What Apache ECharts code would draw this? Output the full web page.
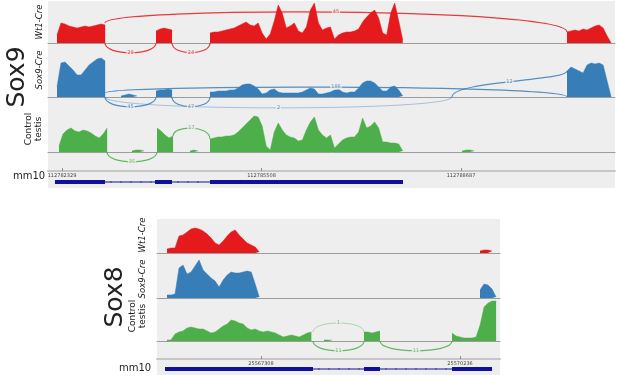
<!DOCTYPE html>
<html>
<head>
<meta charset="utf-8">
<script src="https://cdn.jsdelivr.net/npm/echarts@6/dist/echarts.min.js"></script>
<style>
html, body { margin: 0; padding: 0; background: #fff; }
#chart { width: 617px; height: 376px; }
</style>
</head>
<body>
<div id="chart"></div>
<script>
/* sashimi plots, Sox9 and Sox8 loci (mm10) */

/* ---- Sox9 locus ---- */
var SOX9_STEP = 64; // bp per coverage bin
var SOX9_RANGE = [112782106, 112791141];
var SOX9_TICKS = [112782329, 112785508, 112788687];
var SOX9_EXONS = [[112782217, 112783014], [112783811, 112784082], [112784687, 112787763]];

// coverage segments: [first bin start (bp), depth per bin]
var SOX9_WT1_COV = [
	[112782249, [8,20,19,17,16,15,16,17,16,17,18,19,18]],
	[112783827, [12,14,15,14,13]],
	[112784687, [10,11,11,12,13,14,15,17,19,21,18,17,20,10,4,9,22,38,30,15,17,20,12,10,16,33,40,20,13,15,16,4,8,10,11,11,12,14,21,26,30,33,25,10,8,30,40,22,3]],
	[112790376, [11,12,13,12,14,13,15,17,18,15,7,0]]
];
var SOX9_SOX9_COV = [
	[112782249, [10,34,35,31,27,22,22,27,32,35,38,39,36]],
	[112783269, [1,2,3,2,1]],
	[112783827, [6,7,7,8,7]],
	[112784687, [5,5,6,6,6,7,7,9,12,13,13,11,8,3,4,7,8,5,4,4,4,4,4,5,7,9,8,3,3,4,5,7,8,5,4,5,5,9,14,16,16,14,10,6,6,10,11,7,1]],
	[112790376, [26,30,28,26,24,32,34,33,34,32,16,0]]
];
var SOX9_CTRL_COV = [
	[112782281, [6,18,22,24,21,20,22,21,19,16,14,18,24]],
	[112783444, [1,2,2,1]],
	[112783843, [24,21,17,14,16]],
	[112784369, [1,2,1]],
	[112784687, [13,14,15,15,16,16,17,20,24,28,32,36,35,26,6,2,20,29,22,17,15,14,11,12,22,30,35,22,17,14,17,4,8,12,14,15,15,20,34,24,26,30,24,10,10,9,9,8,1]],
	[112788703, [1,2,2,1]]
];

// junctions: [donor, acceptor, reads]
var SOX9_WT1_JUNC = [[112783014, 112790376, 45], [112783014, 112783827, 29], [112784082, 112784687, 24]];
var SOX9_SOX9_JUNC = [[112783014, 112790376, 186], [112788544, 112790376, 12], [112783014, 112783827, 45], [112784082, 112784687, 47], [112783014, 112788544, 2]];
var SOX9_CTRL_JUNC = [[112783046, 112783843, 35], [112784098, 112784687, 17]];

/* ---- Sox8 locus ---- */
var SOX8_STEP = 59;
var SOX8_RANGE = [25565778, 25570824];
var SOX8_TICKS = [25567308, 25570236];
var SOX8_EXONS = [[25565896, 25568073], [25568823, 25569059], [25570118, 25570707]];

var SOX8_WT1_COV = [
	[25565925, [4,5,5,17,18,21,24,25,24,22,19,15,10,8,12,17,21,23,18,14,10,8,6,1]],
	[25570530, [2,3,3,2]]
];
var SOX8_SOX9_COV = [
	[25565925, [3,3,4,30,33,24,26,32,38,28,24,20,17,11,18,23,26,25,25,26,27,26,14,1]],
	[25570530, [8,14,13,9,1]]
];
var SOX8_CTRL_COV = [
	[25565925, [1,1,7,9,10,13,14,13,12,12,10,8,9,12,15,17,21,20,18,17,13,11,12,10,9,10,9,8,6,4,5,6,5,4,6,8,9]],
	[25568235, [1,1,1]],
	[25568823, [9,9,8,9,10]],
	[25570118, [8,5,4,3,3,3,4,16,34,38,40,40]]
];
var SOX8_CTRL_JUNC = [[25568073, 25568823, 1], [25568073, 25568823, 11], [25569059, 25570118, 11]];

/* ---- styles ---- */
var RED = '#e41a1c', BLUE = '#377eb8', GREEN = '#4daf4a', GENE = '#10109a';
var BG = '#eeeeee';
// arc shape per junction: [start lift, end lift, control height]
var ARC_SOX9_WT1 = [[20, 11, 36], [0, 0, -13], [0, 0, -13]];
var ARC_SOX9_SOX9 = [[4, 0, 12.5], [0, 26, 16], [0, 0, -13], [0, 0, -13], [0, 0, -14.5]];
var ARC_SOX9_CTRL = [[0, 0, -13], [16, 13, 27]];
var ARC_SOX8_CTRL = [[9, 9, 21], [0, 0, -13], [0, 0, -13]];

function covData(segs, step) {
	var out = [];
	segs.forEach(function (seg) {
		seg[1].forEach(function (v, i) { out.push([seg[0] + i * step, v]); });
		out.push([seg[0] + seg[1].length * step, null]);
	});
	return out;
}

function covSeries(segs, step, color, idx) {
	return {
		type: 'line', xAxisIndex: idx, yAxisIndex: idx,
		data: covData(segs, step),
		symbol: 'none', connectNulls: false, silent: true,
		lineStyle: { color: color, width: 0.5 },
		areaStyle: { color: color, opacity: 1 }
	};
}

function arcSeries(junc, shape, color, idx) {
	return {
		type: 'custom', xAxisIndex: idx, yAxisIndex: idx, silent: true, clip: false, z: 5,
		data: junc.map(function (j, k) { return [j[0], j[1], j[2], k]; }),
		encode: { x: [0, 1] },
		renderItem: function (params, api) {
			var s = api.value(0), e = api.value(1), n = api.value(2);
			var L = shape[api.value(3)];
			var p0 = api.coord([s, L[0]]), p3 = api.coord([e, L[1]]);
			var c1 = api.coord([s, L[2]]), c2 = api.coord([e, L[2]]);
			var mx = (p0[0] + 3 * c1[0] + 3 * c2[0] + p3[0]) / 8;
			var my = (p0[1] + 3 * c1[1] + 3 * c2[1] + p3[1]) / 8;
			var faint = n < 5;
			return {
				type: 'group',
				children: [{
					type: 'bezierCurve',
					shape: { x1: p0[0], y1: p0[1], cpx1: c1[0], cpy1: c1[1], cpx2: c2[0], cpy2: c2[1], x2: p3[0], y2: p3[1] },
					style: { stroke: color, lineWidth: faint ? 1 : 1.2, fill: null, opacity: faint ? 0.4 : 0.85 }
				}, {
					type: 'text', x: mx, y: my, z2: 10,
					style: {
						text: String(n), fontSize: 5, fontFamily: 'DejaVu Sans', fill: color,
						opacity: 0.8, align: 'center', verticalAlign: 'middle',
						backgroundColor: BG, padding: [0, 1]
					}
				}]
			};
		}
	};
}

function geneSeries(exons, idx) {
	return {
		type: 'custom', xAxisIndex: idx, yAxisIndex: idx, silent: true, clip: false,
		data: exons.map(function (ex, k) { return [ex[0], ex[1], k]; }),
		encode: { x: [0, 1] },
		renderItem: function (params, api) {
			var k = api.value(2);
			var a = api.coord([api.value(0), 0.5]), b = api.coord([api.value(1), 0.5]);
			var kids = [{
				type: 'rect', shape: { x: a[0], y: a[1] - 2, width: b[0] - a[0], height: 4 },
				style: { fill: GENE }
			}];
			if (k > 0) {
				var p = api.coord([exons[k - 1][1], 0.5]);
				kids.push({ type: 'line', shape: { x1: p[0], y1: p[1], x2: a[0], y2: a[1] }, style: { stroke: GENE, lineWidth: 1 } });
				for (var x = p[0] + 6; x < a[0] - 3; x += 10) {
					kids.push({ type: 'line', shape: { x1: x, y1: p[1] - 1, x2: x, y2: p[1] + 1 }, style: { stroke: GENE, lineWidth: 0.6 } });
				}
			}
			return { type: 'group', children: kids };
		}
	};
}

/* ---- layout ---- */
var grids = [], xAxes = [], yAxes = [];
function trackGrid(left, width, baseline, range) {
	grids.push({ left: left, width: width, top: baseline - 42, height: 55 });
	xAxes.push({
		type: 'value', gridIndex: grids.length - 1, min: range[0], max: range[1],
		axisLine: { show: true, onZero: true, lineStyle: { color: '#9c9c9c', width: 1 } },
		axisTick: { show: false }, axisLabel: { show: false }, splitLine: { show: false }
	});
	yAxes.push({ type: 'value', gridIndex: grids.length - 1, min: -13, max: 42, show: false });
}
function rulerGrid(left, width, lineY, range, ticks) {
	grids.push({ left: left, width: width, top: lineY - 6, height: 6 });
	xAxes.push({
		type: 'value', gridIndex: grids.length - 1, min: range[0], max: range[1], position: 'bottom',
		axisLine: { show: true, onZero: false, lineStyle: { color: '#c6c6c6', width: 2 } },
		axisTick: { show: true, inside: true, length: 3, customValues: ticks, lineStyle: { color: '#777', width: 0.8 } },
		axisLabel: {
			show: true, customValues: ticks, fontSize: 5, margin: 2, color: '#444', fontFamily: 'DejaVu Sans', hideOverlap: false,
			formatter: function (v) { return String(Math.round(v)); }
		},
		splitLine: { show: false }
	});
	yAxes.push({ type: 'value', gridIndex: grids.length - 1, min: 0, max: 1, show: false });
}
function geneGrid(left, width, midY, range) {
	grids.push({ left: left, width: width, top: midY - 4, height: 8 });
	xAxes.push({ type: 'value', gridIndex: grids.length - 1, min: range[0], max: range[1], show: false });
	yAxes.push({ type: 'value', gridIndex: grids.length - 1, min: 0, max: 1, show: false });
}

trackGrid(48, 567, 43, SOX9_RANGE);   // 0
trackGrid(48, 567, 97, SOX9_RANGE);   // 1
trackGrid(48, 567, 152, SOX9_RANGE);  // 2
rulerGrid(48, 567, 171, SOX9_RANGE, SOX9_TICKS); // 3
geneGrid(48, 567, 182, SOX9_RANGE);   // 4
trackGrid(157, 343, 253, SOX8_RANGE); // 5
trackGrid(157, 343, 298, SOX8_RANGE); // 6
trackGrid(157, 343, 341, SOX8_RANGE); // 7
rulerGrid(157, 343, 359, SOX8_RANGE, SOX8_TICKS); // 8
geneGrid(157, 343, 369, SOX8_RANGE);  // 9

function label(text, x, y, size, italic) {
	return {
		type: 'text', x: x, y: y, rotation: Math.PI / 2, z: 10, silent: true,
		style: {
			text: text, fontSize: size, fontFamily: 'DejaVu Sans', fontStyle: italic ? 'italic' : 'normal',
			fill: '#222', align: 'center', verticalAlign: 'middle', lineHeight: size + 1
		}
	};
}
function flat(text, x, y, size) {
	return {
		type: 'text', x: x, y: y, z: 10, silent: true,
		style: { text: text, fontSize: size, fontFamily: 'DejaVu Sans', fill: '#222', align: 'center', verticalAlign: 'middle' }
	};
}

var option = {
	animation: false,
	backgroundColor: '#ffffff',
	grid: grids,
	xAxis: xAxes,
	yAxis: yAxes,
	graphic: [
		{ type: 'rect', shape: { x: 48, y: 1, width: 567, height: 187 }, style: { fill: BG }, z: -10, silent: true },
		{ type: 'rect', shape: { x: 157, y: 219, width: 343, height: 156 }, style: { fill: BG }, z: -10, silent: true },
		label('Sox9', 17, 77, 25, false),
		label('Wt1-Cre', 39.5, 22, 8.5, true),
		label('Sox9-Cre', 39.5, 70, 8.5, true),
		label('Control\ntestis', 34, 129, 9, false),
		flat('mm10', 29, 176, 10),
		label('Sox8', 115, 297, 25, false),
		label('Wt1-Cre', 143, 235, 8.5, true),
		label('Sox9-Cre', 143, 279, 8.5, true),
		label('Control\ntestis', 138, 316, 9, false),
		flat('mm10', 135, 368, 10)
	],
	series: [
		covSeries(SOX9_WT1_COV, SOX9_STEP, RED, 0),
		covSeries(SOX9_SOX9_COV, SOX9_STEP, BLUE, 1),
		covSeries(SOX9_CTRL_COV, SOX9_STEP, GREEN, 2),
		arcSeries(SOX9_WT1_JUNC, ARC_SOX9_WT1, RED, 0),
		arcSeries(SOX9_SOX9_JUNC, ARC_SOX9_SOX9, BLUE, 1),
		arcSeries(SOX9_CTRL_JUNC, ARC_SOX9_CTRL, GREEN, 2),
		geneSeries(SOX9_EXONS, 4),
		covSeries(SOX8_WT1_COV, SOX8_STEP, RED, 5),
		covSeries(SOX8_SOX9_COV, SOX8_STEP, BLUE, 6),
		covSeries(SOX8_CTRL_COV, SOX8_STEP, GREEN, 7),
		arcSeries(SOX8_CTRL_JUNC, ARC_SOX8_CTRL, GREEN, 7),
		geneSeries(SOX8_EXONS, 9)
	]
};

var chart = echarts.init(document.getElementById('chart'));
chart.setOption(option);
</script>
</body>
</html>
